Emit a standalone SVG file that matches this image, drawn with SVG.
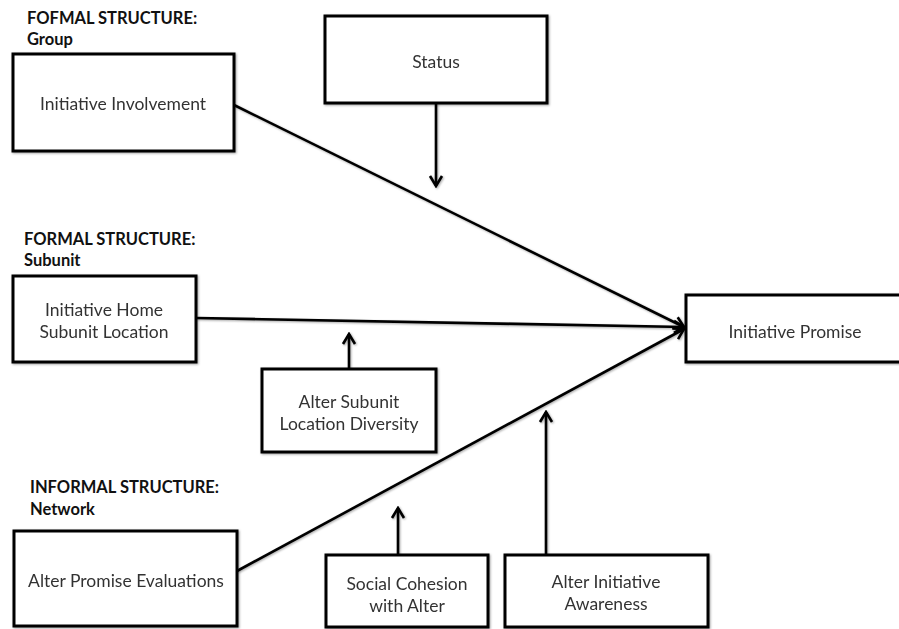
<svg xmlns="http://www.w3.org/2000/svg" width="899" height="629" viewBox="0 0 899 629">
<style>
.box{fill:#fff;stroke:#000;stroke-width:3}
.lbl{font-family:Lato,"Open Sans","Liberation Sans",sans-serif;font-size:17.5px;fill:#333;text-anchor:middle}
.hd{font-family:Lato,"Open Sans","Liberation Sans",sans-serif;font-size:16.5px;font-weight:bold;fill:#111}
.edge{stroke:#000;stroke-width:2.6;fill:none;marker-end:url(#arr)}
</style>
<defs>
<marker id="arr" markerUnits="userSpaceOnUse" viewBox="-13 -8 15 16" markerWidth="15" markerHeight="16" refX="0" refY="0" orient="auto">
<path d="M-10,-6 L0,0 L-10,6" fill="none" stroke="#000" stroke-width="2.6" stroke-linejoin="miter"/>
</marker>
<filter id="sh" x="-5%" y="-5%" width="110%" height="110%">
<feDropShadow dx="1" dy="1" stdDeviation="1" flood-color="#000" flood-opacity="0.35"/>
</filter>
</defs>
<rect width="899" height="629" fill="#fff"/>
<g id="headings">
<text class="hd" x="27" y="24">FOFMAL STRUCTURE:</text>
<text class="hd" x="27" y="45">Group</text>
<text class="hd" x="24" y="245">FORMAL STRUCTURE:</text>
<text class="hd" x="24" y="266">Subunit</text>
<text class="hd" x="30" y="493">INFORMAL STRUCTURE:</text>
<text class="hd" x="30" y="515">Network</text>
</g>
<g id="connectors" filter="url(#sh)">
<path class="edge" d="M234,105 L684,327"/>
<path class="edge" d="M196,318 L684,327"/>
<path class="edge" d="M237,571 L684,329"/>
<path class="edge" d="M436,103 L436,186"/>
<path class="edge" d="M349,369 L349,334"/>
<path class="edge" d="M398,555 L398,508"/>
<path class="edge" d="M546,555 L546,412"/>
</g>
<g id="involvement" filter="url(#sh)">
<rect class="box" x="13" y="54" width="221" height="97"/>
<text class="lbl" x="123" y="110">Initiative Involvement</text>
</g>
<g id="status" filter="url(#sh)">
<rect class="box" x="325" y="16" width="222" height="87"/>
<text class="lbl" x="436" y="68">Status</text>
</g>
<g id="home-subunit" filter="url(#sh)">
<rect class="box" x="13" y="276" width="183" height="86"/>
<text class="lbl" x="104" y="316">Initiative Home</text>
<text class="lbl" x="104" y="338">Subunit Location</text>
</g>
<g id="alter-subunit" filter="url(#sh)">
<rect class="box" x="262" y="369" width="174" height="83"/>
<text class="lbl" x="349" y="408">Alter Subunit</text>
<text class="lbl" x="349" y="430">Location Diversity</text>
</g>
<g id="promise" filter="url(#sh)">
<rect class="box" x="686" y="295" width="230" height="67"/>
<text class="lbl" x="795" y="338">Initiative Promise</text>
</g>
<g id="evaluations" filter="url(#sh)">
<rect class="box" x="14" y="531" width="223" height="95"/>
<text class="lbl" x="126" y="587">Alter Promise Evaluations</text>
</g>
<g id="cohesion" filter="url(#sh)">
<rect class="box" x="326" y="555" width="162" height="72"/>
<text class="lbl" x="407" y="590">Social Cohesion</text>
<text class="lbl" x="407" y="612">with Alter</text>
</g>
<g id="awareness" filter="url(#sh)">
<rect class="box" x="505" y="555" width="203" height="72"/>
<text class="lbl" x="606" y="588">Alter Initiative</text>
<text class="lbl" x="606" y="610">Awareness</text>
</g>
</svg>
